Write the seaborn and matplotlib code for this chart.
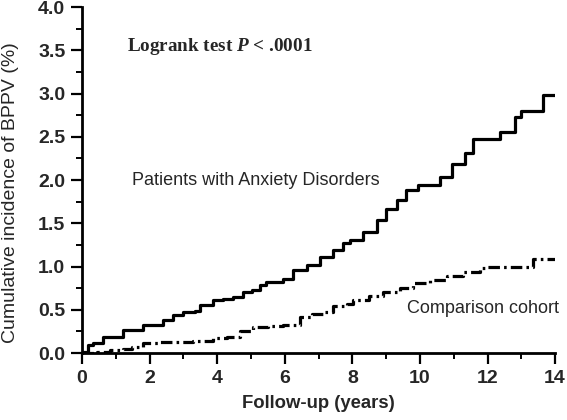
import matplotlib
matplotlib.use('Agg')
import matplotlib.pyplot as plt
import seaborn as sns
import pandas as pd
from matplotlib.ticker import MultipleLocator

# Curvas de incidencia acumulada
anxiety_years = [0, 0.04, 0.19, 0.33, 0.63, 1.07, 1.22, 1.52, 1.81, 2.21, 2.41, 2.7, 3.0,
                 3.34, 3.49, 3.88, 4.18, 4.48, 4.77, 5.02, 5.27, 5.46, 5.96, 6.25, 6.65,
                 7.04, 7.44, 7.73, 7.93, 8.32, 8.72, 9.01, 9.31, 9.6, 9.95, 10.3, 10.6,
                 10.94, 11.33, 11.58, 12.27, 12.37, 12.76, 12.81, 13.0, 13.63, 14.0]
anxiety_inc = [0, 0.015, 0.09, 0.11, 0.19, 0.19, 0.27, 0.27, 0.32, 0.32, 0.38, 0.44, 0.48,
               0.49, 0.55, 0.61, 0.62, 0.65, 0.71, 0.73, 0.79, 0.82, 0.86, 0.96, 1.02,
               1.11, 1.19, 1.27, 1.31, 1.40, 1.54, 1.67, 1.77, 1.88, 1.94, 1.94, 2.04,
               2.19, 2.31, 2.48, 2.48, 2.56, 2.56, 2.73, 2.80, 2.98, 2.98]

comparison_years = [0, 0.43, 0.83, 1.22, 1.47, 1.81, 2.31, 3.29, 3.88, 4.28, 4.67, 5.07,
                    5.5, 5.96, 6.45, 6.8, 7.14, 7.44, 7.83, 8.03, 8.5, 8.91, 9.41, 9.8,
                    10.3, 10.79, 11.28, 11.78, 11.97, 13.35, 14.0]
comparison_inc = [0, 0.015, 0.035, 0.05, 0.07, 0.11, 0.13, 0.14, 0.17, 0.19, 0.25, 0.30,
                  0.31, 0.32, 0.42, 0.45, 0.48, 0.54, 0.57, 0.61, 0.66, 0.71, 0.75, 0.81,
                  0.85, 0.89, 0.94, 0.98, 1.0, 1.09, 1.09]

x_ticks = [0, 2, 4, 6, 8, 10, 12, 14]
y_ticks = [0.0, 0.5, 1.0, 1.5, 2.0, 2.5, 3.0, 3.5, 4.0]

sns.set_style('ticks')
plt.rcParams['font.family'] = ['Liberation Sans', 'DejaVu Sans']
plt.rcParams['mathtext.fontset'] = 'custom'
plt.rcParams['mathtext.it'] = 'Liberation Serif:italic:bold'
plt.rcParams['mathtext.rm'] = 'Liberation Serif:bold'

anx = pd.DataFrame({'t': anxiety_years, 'v': anxiety_inc})
comp = pd.DataFrame({'t': comparison_years, 'v': comparison_inc})

fig = plt.figure(figsize=(5.67, 4.2), dpi=100)
ax = fig.add_axes([0.1446, 0.1595, 0.8344, 0.8235])

sns.lineplot(data=anx, x='t', y='v', ax=ax, color='black', linewidth=2.3,
             drawstyle='steps-post', sort=False)
sns.lineplot(data=comp, x='t', y='v', ax=ax, color='black', linewidth=2.3,
             drawstyle='steps-post', sort=False, linestyle=(0, (3.6, 1.3, 0.8, 1.3)))

ax.set_xlim(0, 14)
ax.set_ylim(0, 4)
ax.set_xticks(x_ticks)
ax.set_yticks(y_ticks)
ax.set_yticklabels([f'{v:.1f}' for v in y_ticks])
ax.xaxis.set_minor_locator(MultipleLocator(1))
ax.yaxis.set_minor_locator(MultipleLocator(0.25))
ax.tick_params(which='major', direction='out', length=8, width=1.6, labelsize=14,
               color='black', pad=4)
ax.tick_params(which='minor', direction='out', length=4.5, width=1.4, color='black')
for lab in ax.get_xticklabels() + ax.get_yticklabels():
    lab.set_fontweight('bold')
for s in ['top', 'right']:
    ax.spines[s].set_visible(False)
for s in ['left', 'bottom']:
    ax.spines[s].set_linewidth(2)
    ax.spines[s].set_color('black')

ax.set_xlabel('Follow-up (years)', fontsize=13.3, fontweight='bold', labelpad=6)
ax.set_ylabel('Cumulative incidence of BPPV (%)', fontsize=14, va='center')
ax.yaxis.set_label_coords(-0.152, 0.465)

ax.text(1.33, 3.54, r'Logrank test $\mathit{P}$ < .0001', fontsize=13.8,
        family='Liberation Serif', fontweight='bold', va='center', ha='left')
ax.text(1.48, 1.99, 'Patients with Anxiety Disorders', fontsize=13, va='center', ha='left')
ax.text(9.62, 0.52, 'Comparison cohort', fontsize=13, va='center', ha='left')

plt.savefig('out.png', dpi=100)
